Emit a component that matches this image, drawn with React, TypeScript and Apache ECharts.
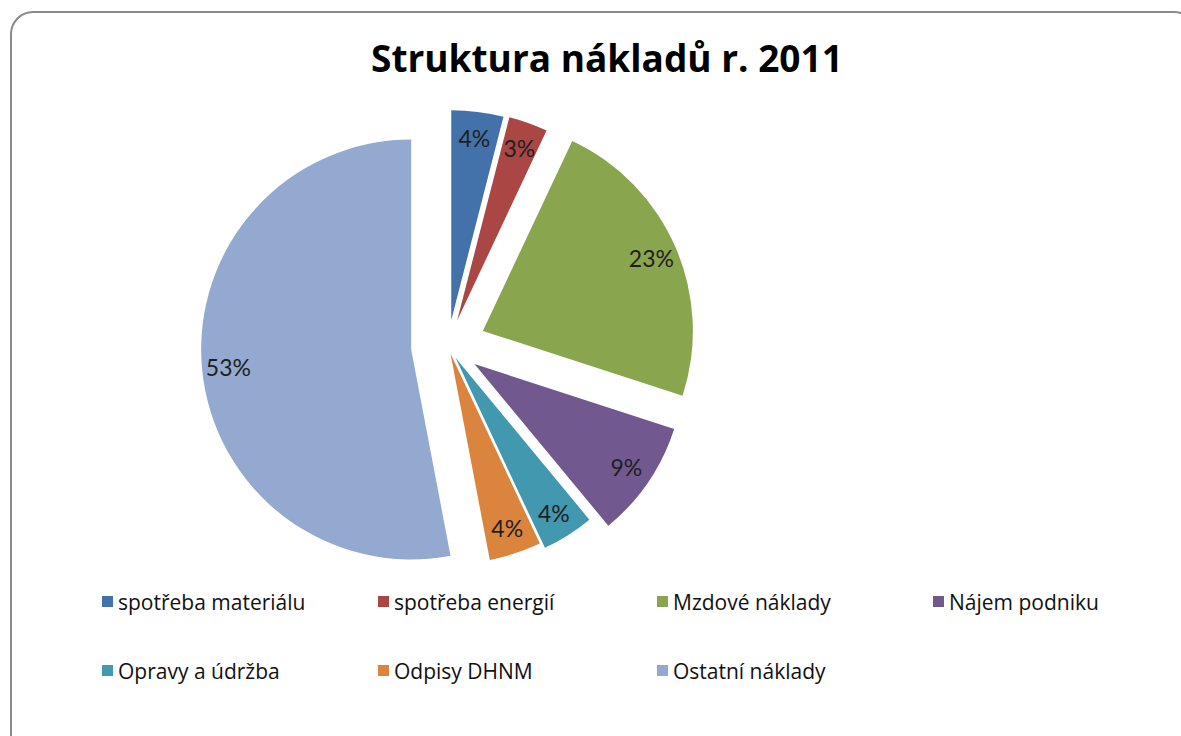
import React, { useEffect, useRef } from "react";
import * as echarts from "echarts";

const titleText = "Struktura nákladů r. 2011";
const categories = [
  "spotřeba materiálu",
  "spotřeba energií",
  "Mzdové náklady",
  "Nájem podniku",
  "Opravy a údržba",
  "Odpisy DHNM",
  "Ostatní náklady",
];
const values = [4, 3, 23, 9, 4, 4, 53];
const percentLabels = ["4%", "3%", "23%", "9%", "4%", "4%", "53%"];

// styling
const colors = ["#4371AA", "#AA4643", "#89A54E", "#71588F", "#4198AF", "#DB843D", "#93A9CF"];
const explode = [26, 27, 38, 32, 14, 8, 37];
const legendColumns = [
  { left: 102, items: [0, 4] },
  { left: 378, items: [1, 5] },
  { left: 657, items: [2, 6] },
  { left: 933, items: [3] },
];

const CENTER = [448, 346];
const R = 210;
const LABEL_FONT = "Lato, 'Open Sans', sans-serif";
const TEXT_FONT = "'Open Sans', Lato, sans-serif";

export default function App() {
  const ref = useRef<HTMLDivElement>(null);
  useEffect(() => {
    if (!ref.current) return;
    const chart = echarts.init(ref.current, undefined, { renderer: "svg" });

    const legendSeries: any = {
      type: "pie",
      name: "legendSource",
      center: CENTER,
      radius: [0, 0],
      silent: true,
      label: { show: false },
      labelLine: { show: false },
      data: categories.map((n, i) => ({ name: n, value: values[i], itemStyle: { color: colors[i] } })),
    };

    const sliceSeries = categories.map((_, i) => ({
      type: "pie",
      name: "slice" + i,
      center: CENTER,
      radius: [0, R],
      startAngle: 90,
      clockwise: true,
      selectedMode: "multiple",
      selectedOffset: explode[i],
      silent: true,
      avoidLabelOverlap: false,
      label: { show: false },
      labelLine: { show: false },
      emphasis: { disabled: true },
      data: categories.map((n, j) => ({
        name: n,
        value: values[j],
        selected: j === i,
        itemStyle:
          j === i
            ? { color: colors[j], borderWidth: 0 }
            : { color: "rgba(0,0,0,0)", borderWidth: 0 },
      })),
    }));

    const labelSeries = categories.map((_, i) => ({
      type: "pie",
      name: "label" + i,
      center: CENTER,
      radius: [R * 0.72, R],
      startAngle: 90,
      clockwise: true,
      selectedMode: "multiple",
      selectedOffset: explode[i],
      silent: true,
      avoidLabelOverlap: false,
      labelLine: { show: false },
      emphasis: { disabled: true },
      z: 5,
      data: categories.map((n, j) => ({
        name: n,
        value: values[j],
        selected: j === i,
        itemStyle: { color: "rgba(0,0,0,0)", borderWidth: 0 },
        label:
          j === i
            ? {
                show: true,
                position: "inside",
                formatter: percentLabels[j],
                color: "#1f1f1f",
                fontSize: 23,
                fontFamily: LABEL_FONT,
              }
            : { show: false },
      })),
    }));

    const legends = legendColumns.map((col) => ({
      orient: "vertical",
      left: col.left,
      top: 591,
      padding: 0,
      itemGap: 48,
      itemWidth: 11,
      itemHeight: 11,
      icon: "rect",
      selectedMode: false,
      data: col.items.map((k) => categories[k]),
      textStyle: { fontSize: 21, color: "#111", fontFamily: TEXT_FONT, lineHeight: 21 },
    }));

    chart.setOption({
      animation: false,
      backgroundColor: "#ffffff",
      title: {
        text: titleText,
        left: 366,
        top: 34,
        textStyle: { fontSize: 37, fontWeight: "bold", color: "#000", fontFamily: TEXT_FONT },
      },
      legend: legends,
      graphic: [
        {
          type: "rect",
          z: -10,
          shape: { x: 11, y: 12, width: 1185, height: 745, r: 22 },
          style: { fill: "#fff", stroke: "#8a8a8a", lineWidth: 2 },
        },
      ],
      series: [legendSeries, ...sliceSeries, ...labelSeries],
    });

    return () => chart.dispose();
  }, []);

  return (
    <div
      ref={ref}
      style={{ position: "fixed", left: 0, top: 0, width: 1181, height: 736 }}
    />
  );
}
